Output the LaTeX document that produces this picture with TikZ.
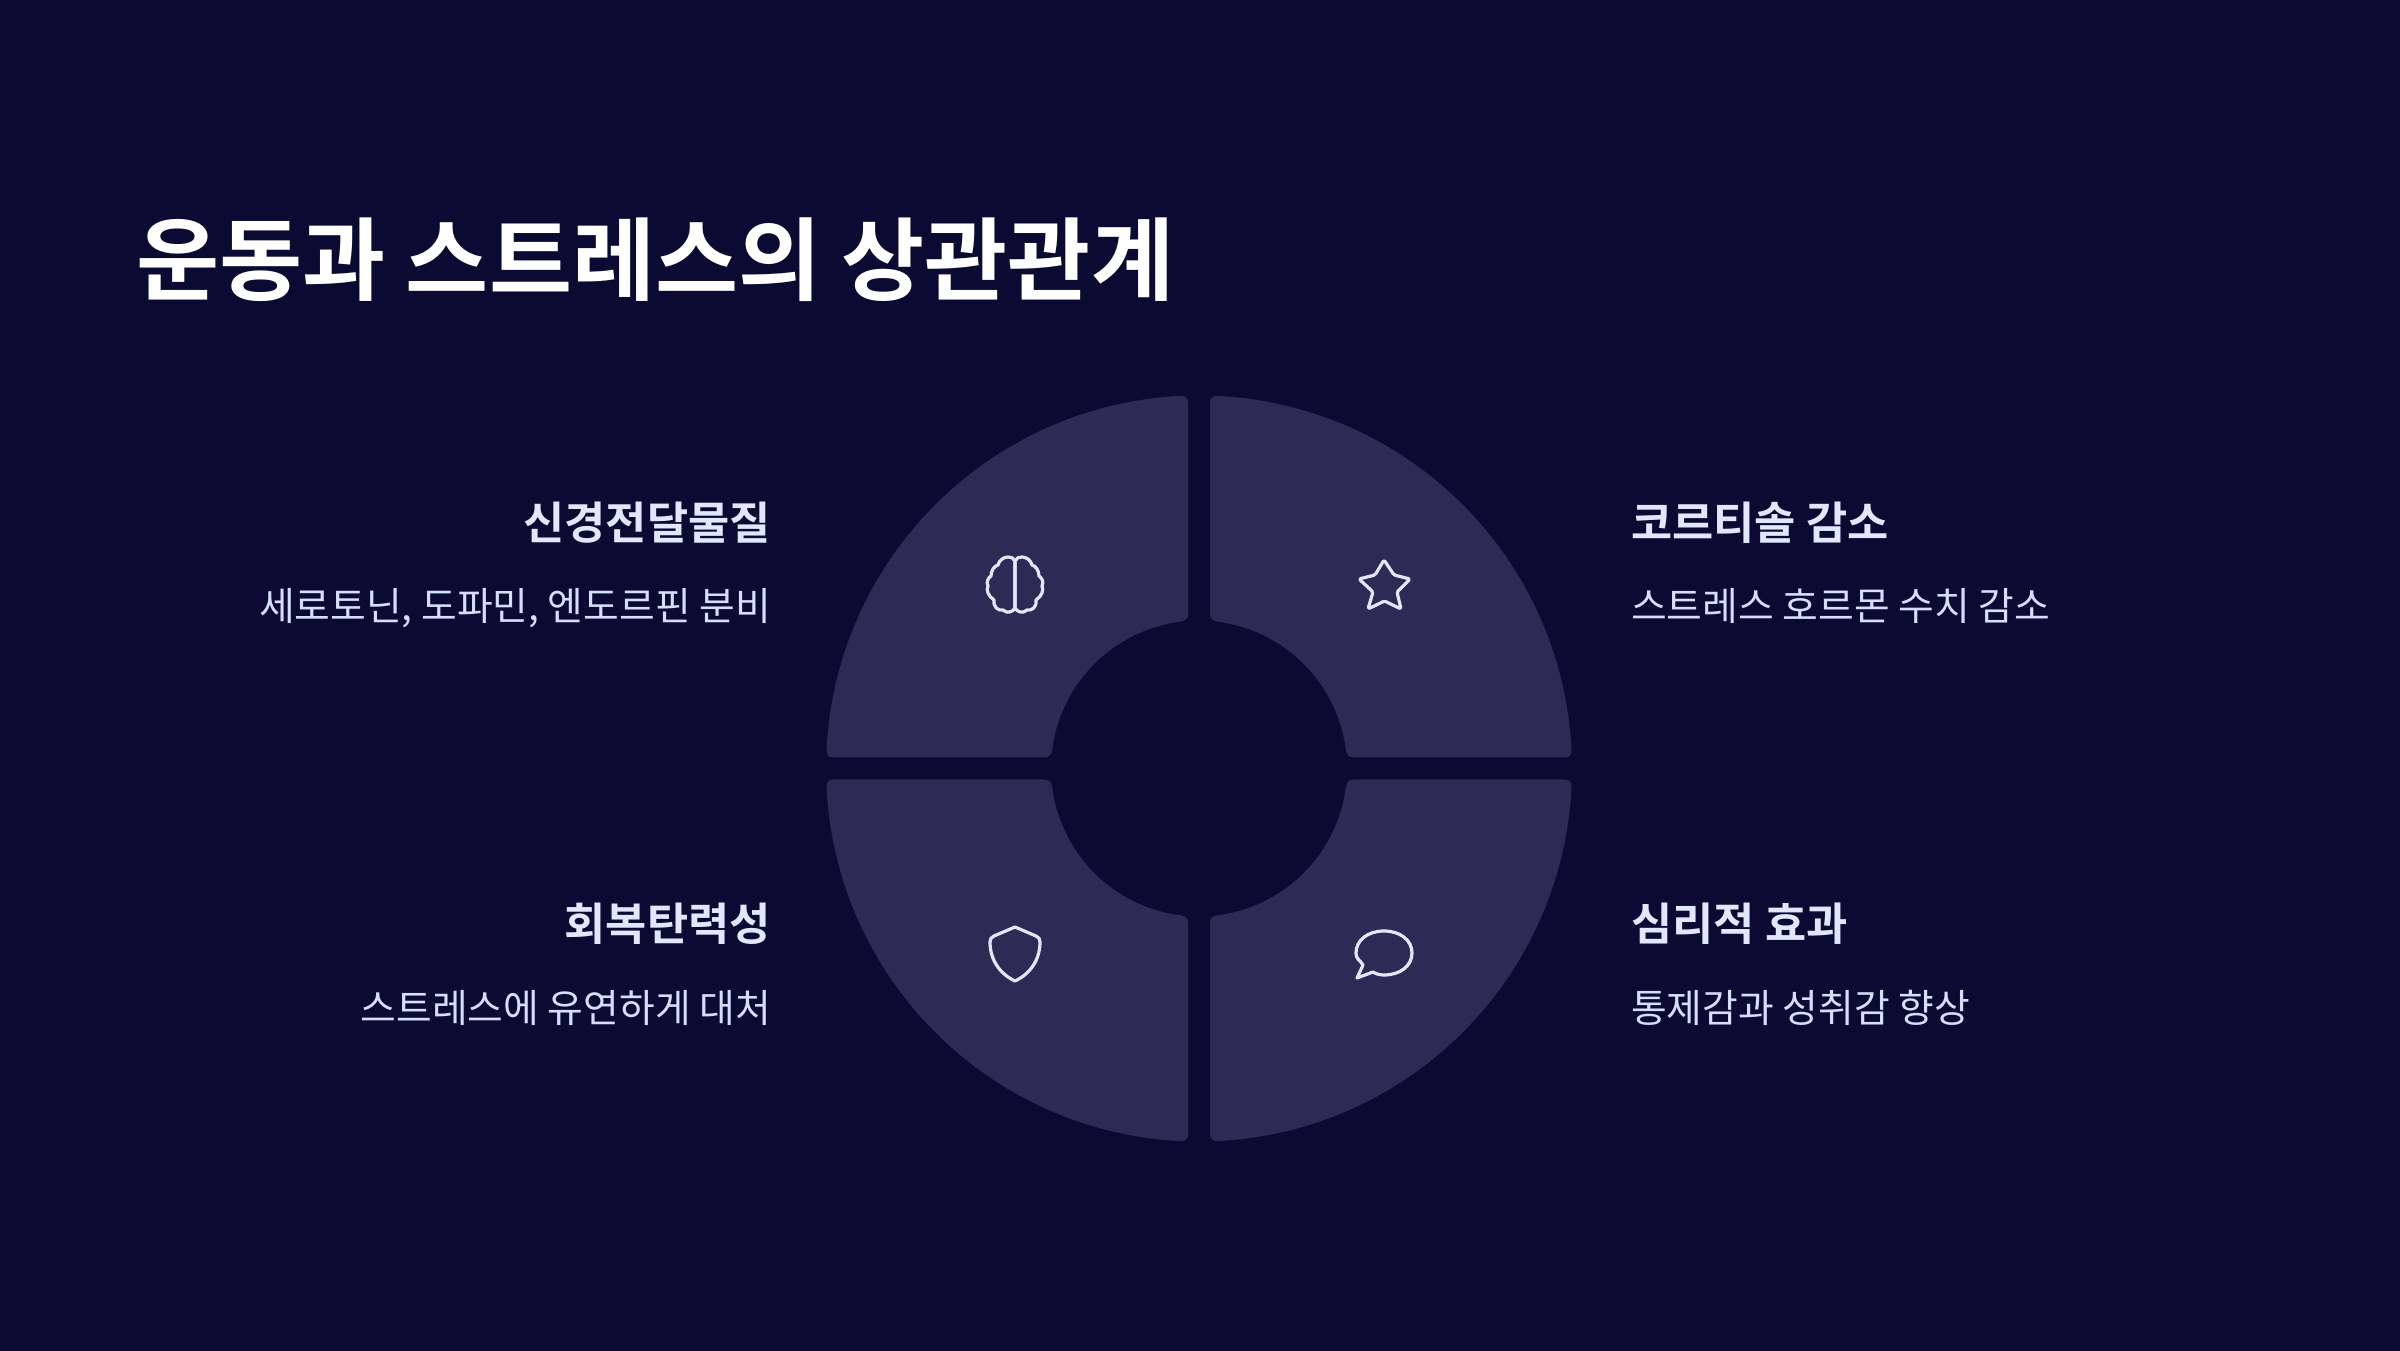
\documentclass[tikz,border=0pt]{standalone}
\usepackage{fontspec}
\setmainfont{Noto Sans CJK KR}
\newfontfamily\headfont{Noto Sans CJK KR Bold}
\usetikzlibrary{positioning}
\definecolor{bgcol}{RGB}{10,10,51}
\definecolor{seccol}{RGB}{45,43,85}
\definecolor{headcol}{RGB}{224,231,255}
\definecolor{subcol}{RGB}{214,222,252}
\newcommand{\secpath}{(11,154) -- (11,366) .. controls (11,370.5) and (14,372.5) .. (18.2,372.6) arc (87.2:2.8:373) .. controls (372.5,14) and (370.5,11) .. (366,11) -- (155,11) .. controls (150.5,11) and (148,13) .. (146.9,18) arc (7:83:148) .. controls (13,148) and (11,150.5) .. (11,154) -- cycle}
\newcommand{\brainpath}{(0,24) -- (0,-23) .. controls (-2,-27) and (-8,-29) .. (-12,-25) .. controls (-17,-26) and (-22,-22) .. (-21,-15) .. controls (-27,-11) and (-29,-5) .. (-27,-1) .. controls (-29,3) and (-27,7) .. (-24,9) .. controls (-24,14) and (-21,19) .. (-17,20) .. controls (-16,25) and (-11,28) .. (-7,28) .. controls (-4,28) and (-1,27) .. (0,24)}
\begin{document}
\begin{tikzpicture}[x=1pt,y=1pt,
      sec/.style={fill=seccol},
      ic/.style={draw=headcol, line width=3.2pt, line join=round, line cap=round},
      ttl/.style={text=white, inner sep=0pt, font=\fontsize{90.3}{90.3}\headfont},
      hd/.style={text=headcol, inner sep=0pt, font=\fontsize{44.8}{44.8}\headfont},
      sb/.style={text=subcol, inner sep=0pt, font=\fontsize{38.8}{38.8}\selectfont}]
      \useasboundingbox (0,0) rectangle (2400,1350);
      \fill[bgcol] (-3,-3) rectangle (2403,1353);

      \begin{scope}[shift={(1199,581.5)}]
        \fill[sec] \secpath;
        \fill[sec, xscale=-1] \secpath;
        \fill[sec, yscale=-1] \secpath;
        \fill[sec, xscale=-1, yscale=-1] \secpath;
      \end{scope}

      \draw node[ttl, anchor=base west] (t0) at (136,1056) {운동과 스트레스의 상관관계};

      \draw node[hd, anchor=base east] (t1) at (771,810) {신경전달물질};
      \draw node[sb, anchor=base east] (t11) at (771,729) {세로토닌, 도파민, 엔도르핀 분비};

      \draw node[hd, anchor=base west] (t2) at (1631,810) {코르티솔 감소};
      \draw node[sb, anchor=base west] (t21) at (1631,729) {스트레스 호르몬 수치 감소};

      \draw node[hd, anchor=base east] (t3) at (771,409) {회복탄력성};
      \draw node[sb, anchor=base east] (t31) at (771,328) {스트레스에 유연하게 대처};

      \draw node[hd, anchor=base west] (t4) at (1631,409) {심리적 효과};
      \draw node[sb, anchor=base west] (t41) at (1631,328) {통제감과 성취감 향상};

      \begin{scope}[shift={(1015,765)}]
        \draw[ic] \brainpath;
        \draw[ic, xscale=-1] \brainpath;
      \end{scope}

      \draw[ic, rounded corners=1.5pt] (1384,790) -- (1394,775) -- (1410,771) -- (1397,758) -- (1401,741)
        -- (1384.5,749) -- (1368,741) -- (1373,758) -- (1359,771) -- (1375,775) -- cycle;

      \draw[ic] (1015,423) -- (1036,414) .. controls (1039,412.5) and (1040,411) .. (1040,408)
        .. controls (1040,390) and (1030,376) .. (1015,369)
        .. controls (1000,376) and (990,390) .. (990,408)
        .. controls (990,411) and (991,412.5) .. (994,414) -- cycle;

      \draw[ic] (1363,385) .. controls (1359,391) and (1356,391) .. (1356,397)
        .. controls (1356,410) and (1368,419) .. (1384,419)
        .. controls (1400,419) and (1412,410) .. (1412,397)
        .. controls (1412,384) and (1400,375) .. (1384,375)
        .. controls (1380,375) and (1376,376) .. (1373,378)
        -- (1357,372) -- cycle;
\end{tikzpicture}
\end{document}
